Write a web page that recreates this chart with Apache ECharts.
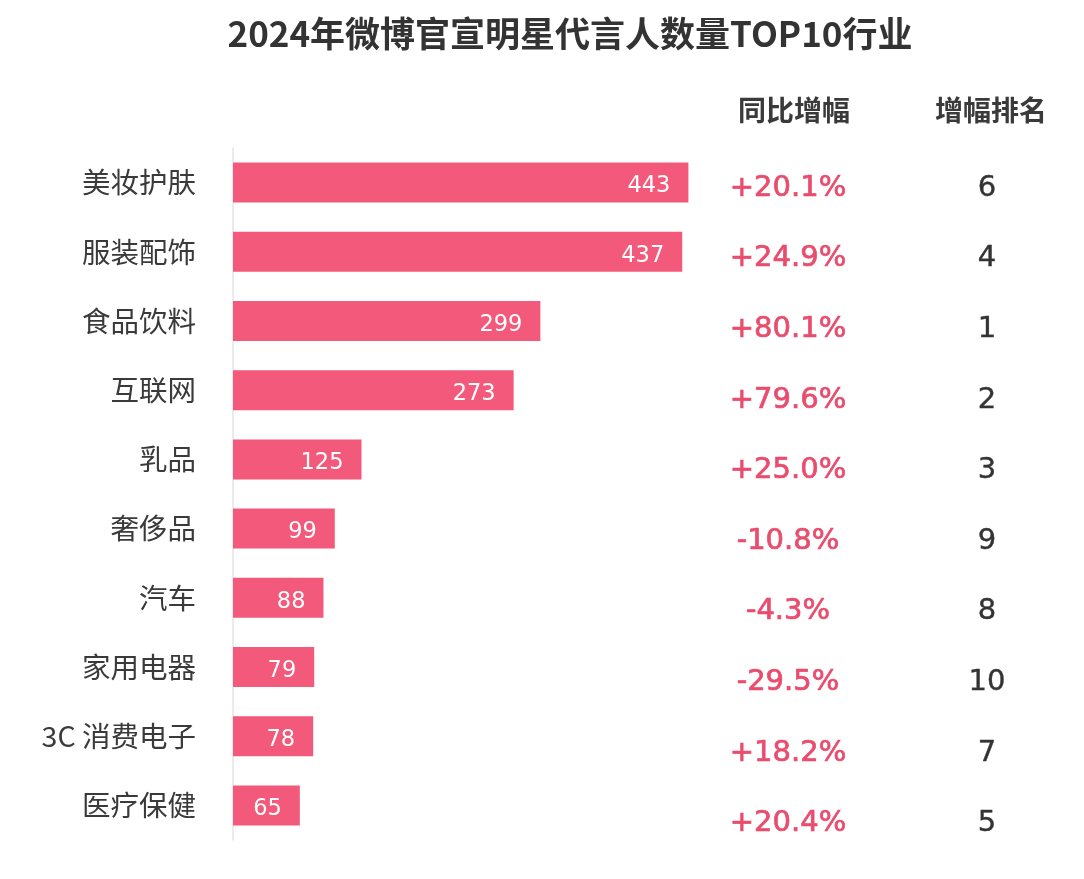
<!DOCTYPE html>
<html>
<head>
<meta charset="utf-8">
<script src="https://cdn.jsdelivr.net/npm/echarts@6/dist/echarts.min.js"></script>
<style>
html,body{margin:0;padding:0;background:#fff;}
#main{width:1084px;height:879px;}
</style>
</head>
<body>
<div id="main"></div>
<script>
const titleText = '2024年微博官宣明星代言人数量TOP10行业';
const categories = ['美妆护肤','服装配饰','食品饮料','互联网','乳品','奢侈品','汽车','家用电器','3C 消费电子','医疗保健'];
const counts = [443, 437, 299, 273, 125, 99, 88, 79, 78, 65];
const growth = ['+20.1%','+24.9%','+80.1%','+79.6%','+25.0%','-10.8%','-4.3%','-29.5%','+18.2%','+20.4%'];
const ranks = ['6','4','1','2','3','9','8','10','7','5'];
const headers = ['同比增幅', '增幅排名'];

const CJK = '"Noto Sans CJK SC", "Noto Sans", sans-serif';
const NUM = '"DejaVu Sans", "Noto Sans", sans-serif';

const chart = echarts.init(document.getElementById('main'), null, {renderer: 'canvas'});
const option = {
  backgroundColor: '#ffffff',
  animation: false,
  graphic: [
    {type: 'text', x: 570, y: 34, style: {text: titleText, fontFamily: CJK, fontSize: 35, fontWeight: 'bold', fill: '#333333', textAlign: 'center', textVerticalAlign: 'middle'}},
    {type: 'text', x: 794, y: 110, style: {text: headers[0], fontFamily: CJK, fontSize: 28, fontWeight: 'bold', fill: '#3a3a3a', textAlign: 'center', textVerticalAlign: 'middle'}},
    {type: 'text', x: 991, y: 110, style: {text: headers[1], fontFamily: CJK, fontSize: 28, fontWeight: 'bold', fill: '#3a3a3a', textAlign: 'center', textVerticalAlign: 'middle'}}
  ],
  grid: [
    {left: 233, top: 148, width: 514, height: 692, containLabel: false},
    {left: 788, top: 153, width: 1, height: 706, containLabel: false},
    {left: 987, top: 153, width: 1, height: 706, containLabel: false}
  ],
  xAxis: [
    {type: 'value', gridIndex: 0, min: 0, max: 500, show: false},
    {type: 'value', gridIndex: 1, show: false},
    {type: 'value', gridIndex: 2, show: false}
  ],
  yAxis: [
    {
      type: 'category', gridIndex: 0, data: categories, inverse: true,
      axisLine: {show: true, lineStyle: {color: '#e4e4e4', width: 1.5}},
      axisTick: {show: false},
      splitLine: {show: false},
      axisLabel: {interval: 0, margin: 37, fontFamily: CJK, fontSize: 28.5, color: '#3a3a3a'}
    },
    {
      type: 'category', gridIndex: 1, data: growth, inverse: true,
      axisLine: {show: false}, axisTick: {show: false}, splitLine: {show: false},
      axisLabel: {interval: 0, margin: 0, align: 'center', fontFamily: NUM, fontSize: 29, color: '#e94c6d', textBorderColor: '#e94c6d', textBorderWidth: 0.7}
    },
    {
      type: 'category', gridIndex: 2, data: ranks, inverse: true,
      axisLine: {show: false}, axisTick: {show: false}, splitLine: {show: false},
      axisLabel: {interval: 0, margin: 0, align: 'center', fontFamily: NUM, fontSize: 29, color: '#333333', textBorderColor: '#333333', textBorderWidth: 0.4}
    }
  ],
  series: [
    {
      type: 'bar', xAxisIndex: 0, yAxisIndex: 0,
      data: counts,
      barWidth: 40,
      itemStyle: {color: '#f3597a'},
      label: {show: true, position: 'insideRight', distance: 18, offset: [0, 4], color: '#ffffff', fontFamily: NUM, fontSize: 22.5}
    }
  ]
};
chart.setOption(option);
</script>
</body>
</html>
